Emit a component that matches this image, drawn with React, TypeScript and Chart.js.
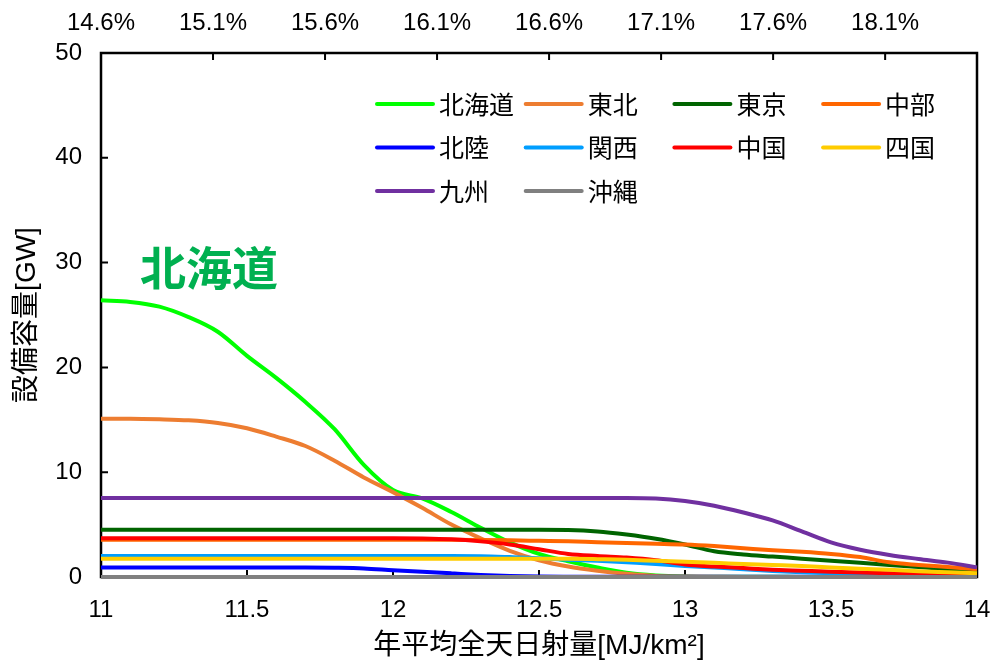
import React, { useEffect, useRef } from 'react';
import { Chart, registerables } from 'chart.js';

Chart.register(...registerables);

// Annual mean global irradiance grid shared by every regional curve
const irradiance = [
  11.0, 11.1, 11.2, 11.3, 11.4, 11.5, 11.6, 11.7, 11.8, 11.9,
  12.0, 12.1, 12.2, 12.3, 12.4, 12.5, 12.6, 12.7, 12.8, 12.9,
  13.0, 13.1, 13.2, 13.3, 13.4, 13.5, 13.6, 13.7, 13.8, 13.9, 14.0,
];

const regionNames = ['北海道', '東北', '東京', '中部', '北陸', '関西', '中国', '四国', '九州', '沖縄'];
const regionColors = [
  '#00FF00', '#ED7D31', '#006400', '#FF6600', '#0000FF',
  '#009EFF', '#FF0000', '#FFCC00', '#7030A0', '#808080',
];

// Installed capacity [GW] per region along the irradiance grid
const hokkaido = [
  26.4, 26.25, 25.8, 24.8, 23.4, 21.1, 19.0, 16.7, 14.1, 10.7,
  8.3, 7.5, 6.2, 4.7, 3.3, 2.2, 1.5, 0.9, 0.4, 0.15,
  0.05, 0.03, 0.02, 0.02, 0.01, 0.01, 0, 0, 0, 0, 0,
];
const tohoku = [
  15.1, 15.1, 15.05, 14.95, 14.7, 14.2, 13.4, 12.5, 11.1, 9.5,
  8.1, 6.6, 5.0, 3.7, 2.5, 1.6, 1.0, 0.6, 0.3, 0.1,
  0.05, 0.02, 0, 0, 0, 0, 0, 0, 0, 0, 0,
];
const tokyo = [
  4.5, 4.5, 4.5, 4.5, 4.5, 4.5, 4.5, 4.5, 4.5, 4.5,
  4.5, 4.5, 4.5, 4.5, 4.5, 4.5, 4.48, 4.35, 4.05, 3.65,
  3.1, 2.45, 2.15, 1.95, 1.75, 1.55, 1.35, 1.15, 0.95, 0.75, 0.6,
];
const chubu = [
  3.55, 3.55, 3.55, 3.55, 3.55, 3.55, 3.55, 3.55, 3.55, 3.55,
  3.55, 3.55, 3.55, 3.53, 3.5, 3.45, 3.4, 3.32, 3.25, 3.18,
  3.1, 2.95, 2.75, 2.55, 2.4, 2.2, 1.9, 1.4, 1.15, 0.95, 0.75,
];
const hokuriku = [
  0.9, 0.9, 0.9, 0.9, 0.9, 0.9, 0.9, 0.9, 0.88, 0.82,
  0.65, 0.5, 0.35, 0.2, 0.1, 0.05, 0.03, 0.02, 0.02, 0.02,
  0.02, 0.02, 0.02, 0.02, 0.02, 0.02, 0.02, 0.02, 0.02, 0.02, 0.02,
];
const kansai = [
  2.0, 2.0, 2.0, 2.0, 2.0, 2.0, 2.0, 2.0, 2.0, 2.0,
  2.0, 2.0, 2.0, 1.98, 1.9, 1.8, 1.65, 1.55, 1.4, 1.25,
  1.05, 0.9, 0.75, 0.58, 0.45, 0.35, 0.27, 0.2, 0.15, 0.12, 0.1,
];
const chugoku = [
  3.7, 3.7, 3.7, 3.7, 3.7, 3.7, 3.7, 3.7, 3.7, 3.7,
  3.7, 3.68, 3.6, 3.4, 3.1, 2.65, 2.2, 2.0, 1.85, 1.6,
  1.2, 1.0, 0.85, 0.7, 0.6, 0.5, 0.42, 0.35, 0.3, 0.25, 0.2,
];
const shikoku = [
  1.75, 1.75, 1.75, 1.75, 1.75, 1.75, 1.75, 1.75, 1.75, 1.75,
  1.75, 1.75, 1.75, 1.75, 1.75, 1.75, 1.74, 1.7, 1.65, 1.55,
  1.45, 1.35, 1.25, 1.15, 1.05, 0.9, 0.78, 0.68, 0.55, 0.45, 0.35,
];
const kyushu = [
  7.55, 7.55, 7.55, 7.55, 7.55, 7.55, 7.55, 7.55, 7.55, 7.55,
  7.55, 7.55, 7.55, 7.55, 7.55, 7.55, 7.55, 7.55, 7.55, 7.5,
  7.25, 6.8, 6.15, 5.4, 4.35, 3.3, 2.6, 2.1, 1.72, 1.37, 0.92,
];
const okinawa = [
  0, 0, 0, 0, 0, 0, 0, 0, 0, 0,
  0, 0, 0, 0, 0, 0, 0, 0, 0, 0,
  0, 0, 0, 0, 0, 0, 0, 0, 0, 0, 0,
];

const regionSeries = [hokkaido, tohoku, tokyo, chubu, hokuriku, kansai, chugoku, shikoku, kyushu, okinawa];

const irradianceTicks = [11, 11.5, 12, 12.5, 13, 13.5, 14];
const capacityTicks = [0, 10, 20, 30, 40, 50];
// Capacity factor shown along the top edge
const capacityFactorTicks = [14.6, 15.1, 15.6, 16.1, 16.6, 17.1, 17.6, 18.1];
const capacityFactorMin = 14.6;
const capacityFactorMax = 18.51;

const xTitle = '年平均全天日射量[MJ/km²]';
const yTitle = '設備容量[GW]';
const highlightLabel = '北海道';

const LATIN = '"Liberation Sans", Arial, "Noto Sans CJK JP", sans-serif';
const CJK = '"Noto Sans CJK JP", "Noto Sans CJK SC", sans-serif';
const TICK_FONT = { family: LATIN, size: 24 };

const framePlugin = {
  id: 'frameAndTicks',
  beforeDatasetsDraw(chart: any) {
    const { ctx, chartArea: a, scales } = chart;
    ctx.save();
    ctx.strokeStyle = '#000';
    ctx.lineWidth = 2.5;
    ctx.beginPath();
    ctx.rect(a.left, a.top, a.right - a.left, a.bottom - a.top);
    ctx.stroke();

    ctx.lineWidth = 2;
    const len = 7;
    ctx.beginPath();
    capacityTicks.slice(1, -1).forEach((v) => {
      const y = scales.y.getPixelForValue(v);
      ctx.moveTo(a.left, y);
      ctx.lineTo(a.left + len, y);
    });
    irradianceTicks.slice(1, -1).forEach((v) => {
      const x = scales.x.getPixelForValue(v);
      ctx.moveTo(x, a.bottom);
      ctx.lineTo(x, a.bottom - len);
    });
    capacityFactorTicks.slice(1).forEach((v) => {
      const x = scales.x2.getPixelForValue(v);
      ctx.moveTo(x, a.top);
      ctx.lineTo(x, a.top + len);
    });
    ctx.stroke();
    ctx.restore();
  },
  afterDraw(chart: any) {
    const { ctx, chartArea: a } = chart;
    ctx.save();

    // axis titles
    ctx.fillStyle = '#000';
    ctx.font = `28px ${LATIN}`;
    ctx.textAlign = 'center';
    ctx.textBaseline = 'middle';
    ctx.fillText(xTitle, (a.left + a.right) / 2, 646);
    ctx.save();
    ctx.translate(27.5, (a.top + a.bottom) / 2);
    ctx.rotate(-Math.PI / 2);
    ctx.fillText(yTitle, 0, 0);
    ctx.restore();

    // legend laid out in four columns
    const legendLeft = a.left + 276;
    const legendTop = a.top + 51;
    const colW = 148.7;
    const rowH = 43.5;
    const sample = 56;
    ctx.textAlign = 'left';
    ctx.font = `25px ${CJK}`;
    chart.data.datasets.forEach((ds: any, i: number) => {
      const col = i % 4;
      const row = Math.floor(i / 4);
      const x = legendLeft + col * colW;
      const y = legendTop + row * rowH;
      ctx.strokeStyle = ds.borderColor;
      ctx.lineWidth = 4;
      ctx.lineCap = 'round';
      ctx.beginPath();
      ctx.moveTo(x, y);
      ctx.lineTo(x + sample, y);
      ctx.stroke();
      ctx.fillStyle = '#000';
      ctx.fillText(ds.label, x + sample + 6, y);
    });

    // region call-out
    ctx.fillStyle = '#00B050';
    ctx.font = `bold 46px ${CJK}`;
    ctx.fillText(highlightLabel, a.left + 39, a.top + 214.5);
    ctx.restore();
  },
};

const noEdgePadding = (s: any) => {
  s.paddingLeft = 0;
  s.paddingRight = 0;
  s.paddingTop = 0;
  s.paddingBottom = 0;
};

export default function App() {
  const canvasRef = useRef<HTMLCanvasElement | null>(null);

  useEffect(() => {
    const canvas = canvasRef.current;
    if (!canvas) return;

    const datasets = regionNames.map((name, i) => ({
      label: name,
      data: irradiance.map((x, k) => ({ x, y: regionSeries[i][k] })),
      borderColor: regionColors[i],
      backgroundColor: regionColors[i],
      borderWidth: 4,
      pointRadius: 0,
      pointHoverRadius: 0,
      cubicInterpolationMode: 'monotone' as const,
      fill: false,
      order: regionNames.length - i,
      clip: 8,
      xAxisID: 'x',
      yAxisID: 'y',
    }));

    const chart = new Chart(canvas, {
      type: 'line',
      data: { datasets },
      plugins: [framePlugin],
      options: {
        animation: false,
        responsive: false,
        devicePixelRatio: 1,
        layout: { padding: { left: 0, right: 16, top: 0, bottom: 0 } },
        plugins: {
          legend: { display: false },
          tooltip: { enabled: false },
          title: { display: false },
        },
        scales: {
          x: {
            type: 'linear',
            position: 'bottom',
            min: 11,
            max: 14,
            afterBuildTicks: (s: any) => {
              s.ticks = irradianceTicks.map((v) => ({ value: v }));
            },
            afterFit: (s: any) => {
              s.height = 85;
              noEdgePadding(s);
            },
            grid: { display: false },
            border: { display: false },
            ticks: {
              font: TICK_FONT,
              color: '#000',
              padding: 11,
              maxRotation: 0,
              autoSkip: false,
              callback: (v: any) => String(v),
            },
          },
          x2: {
            type: 'linear',
            position: 'top',
            min: capacityFactorMin,
            max: capacityFactorMax,
            afterBuildTicks: (s: any) => {
              s.ticks = capacityFactorTicks.map((v) => ({ value: v }));
            },
            afterFit: (s: any) => {
              s.height = 53;
              noEdgePadding(s);
            },
            grid: { display: false },
            border: { display: false },
            ticks: {
              font: TICK_FONT,
              color: '#000',
              padding: 7,
              maxRotation: 0,
              autoSkip: false,
              callback: (v: any) => `${Number(v).toFixed(1)}%`,
            },
          },
          y: {
            type: 'linear',
            min: 0,
            max: 50,
            afterBuildTicks: (s: any) => {
              s.ticks = capacityTicks.map((v) => ({ value: v }));
            },
            afterFit: (s: any) => {
              s.width = 101;
              noEdgePadding(s);
            },
            grid: { display: false },
            border: { display: false },
            ticks: {
              font: TICK_FONT,
              color: '#000',
              padding: 11,
              callback: (v: any) => String(v),
            },
          },
        },
      },
    });

    return () => chart.destroy();
  }, []);

  return (
    <div style={{ position: 'absolute', left: 0, top: 0, width: 993, height: 662, background: '#fff' }}>
      <canvas ref={canvasRef} width={993} height={662} style={{ display: 'block' }} />
    </div>
  );
}
